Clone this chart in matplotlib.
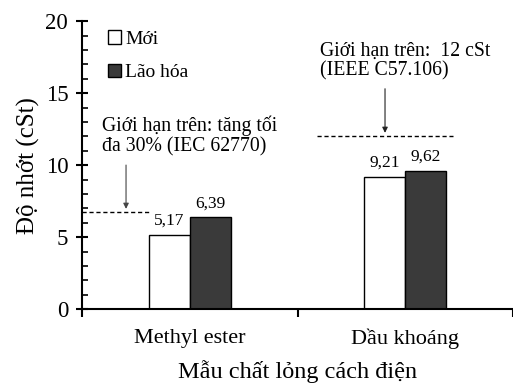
import numpy as np
import matplotlib.pyplot as plt
from matplotlib.patches import Patch

plt.rcParams['font.family'] = ['Liberation Serif', 'DejaVu Serif']

# dữ liệu độ nhớt (cSt)
categories = ["Methyl ester", "Dầu khoáng"]
series_names = ["Mới", "Lão hóa"]
new_vals = [5.17, 9.21]
aged_vals = [6.39, 9.62]
label_new = ["5,17", "9,21"]
label_aged = ["6,39", "9,62"]
limit_ester = 5.17 * 1.3   # tăng tối đa 30%
limit_mineral = 12.0

fig = plt.figure(figsize=(5.13, 3.85), dpi=100)
ax = fig.add_axes([0.16, 0.197, 0.84, 0.748])

x = np.arange(len(categories))
w = 0.19
ax.bar(x - w / 2, new_vals, w, color="white", edgecolor="black", linewidth=1.0)
ax.bar(x + w / 2, aged_vals, w, color="#3a3a3a", edgecolor="black", linewidth=1.0)

for xi, v, s in zip(x - w / 2, new_vals, label_new):
    ax.text(xi, v + 0.4, s, ha="center", va="bottom", fontsize=12.5)
for xi, v, s in zip(x + w / 2, aged_vals, label_aged):
    ax.text(xi, v + 0.4, s, ha="center", va="bottom", fontsize=12.5)

# đường giới hạn
ax.plot([-0.5, -w], [limit_ester, limit_ester], color="black", lw=1.0, dashes=(3, 2))
ax.plot([0.59, 1.22], [limit_mineral, limit_mineral], color="black", lw=1.0, dashes=(3, 2))

ax.annotate("", xy=(-0.296, limit_ester + 0.05), xytext=(-0.296, 10.2),
            arrowprops=dict(arrowstyle="-|>", color="#444444", lw=0.8, mutation_scale=8))
ax.annotate("", xy=(0.906, limit_mineral + 0.05), xytext=(0.906, 15.5),
            arrowprops=dict(arrowstyle="-|>", color="#222222", lw=0.8, mutation_scale=8))

ax.text(-0.407, 10.6, "Giới hạn trên: tăng tối\nđa 30% (IEC 62770)", fontsize=14.2,
        ha="left", va="bottom", linespacing=1.1)
ax.text(0.604, 15.85, "Giới hạn trên:  12 cSt\n(IEEE C57.106)", fontsize=14.2,
        ha="left", va="bottom", linespacing=1.05)

ax.set_xlim(-0.5, 1.5)
ax.set_ylim(0, 20)
ax.set_yticks(np.arange(0, 21, 5))
ax.set_yticks(np.arange(0, 21, 1), minor=True)
ax.set_xticks(x)
ax.set_xticklabels(categories, fontsize=16)
ax.set_xticks([-0.5, 0.5, 1.5], minor=True)

ax.tick_params(axis="y", which="major", direction="inout", length=8, width=1.5, labelsize=16.5, pad=6)
ax.tick_params(axis="y", which="minor", direction="in", length=4, width=1.2)
ax.tick_params(axis="x", which="major", length=0, pad=14)
ax.tick_params(axis="x", which="minor", direction="out", length=6, width=1.5)

for side in ["top", "right"]:
    ax.spines[side].set_visible(False)
for side in ["left", "bottom"]:
    ax.spines[side].set_linewidth(1.5)

ax.set_ylabel("Độ nhớt (cSt)", fontsize=18, labelpad=4)
ax.set_xlabel("Mẫu chất lỏng cách điện", fontsize=17.5, labelpad=8)

handles = [Patch(facecolor="white", edgecolor="black", linewidth=1.0),
           Patch(facecolor="#3a3a3a", edgecolor="black", linewidth=1.0)]
ax.legend(handles, series_names, loc="upper left", bbox_to_anchor=(0.028, 1.015),
          frameon=False, fontsize=14, handlelength=0.7, handleheight=0.7,
          handletextpad=0.2, labelspacing=0.8, borderaxespad=0.3)

fig.savefig("out.png", dpi=100)
